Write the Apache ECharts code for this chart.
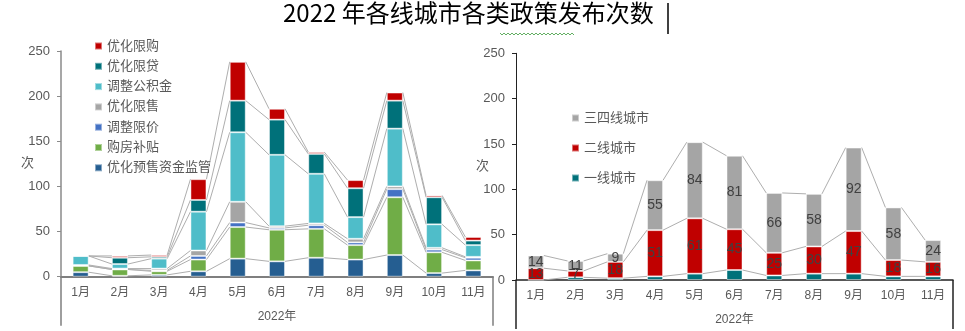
<!DOCTYPE html>
<html><head><meta charset="utf-8">
<script src="https://cdn.jsdelivr.net/npm/echarts@6/dist/echarts.min.js"></script>
<style>html,body{margin:0;padding:0;background:#fff}#c{width:965px;height:331px}</style>
</head><body><div id="c"></div>
<script>
const titleText = '2022 年各线城市各类政策发布次数';
const months = ['1月','2月','3月','4月','5月','6月','7月','8月','9月','10月','11月'];
const yearLabel = ['2022年'];
const yMin = 0, yMax = 250, yStep = 50;

// left chart: policy types (bottom -> top)
const presale   = [5,1,2,6,20,17,21,19,24,4,7];
const subsidy   = [7,7,4,13,35,35,32,16,64,23,11];
const priceCap  = [0,0,1,4,5,2,4,3,9,3,3];
const saleLimit = [1,1,2,6,23,2,2,4,3,2,1];
const fund      = [10,5,11,43,77,79,55,24,64,26,13];
const loan      = [0,7,2,13,35,39,22,32,31,30,5];
const purchase  = [0,2,2,23,43,12,2,9,9,2,4];

// right chart: city tiers (bottom -> top)
const tier1  = [0,3,2,4,7,11,5,7,7,4,4];
const tier2  = [13,7,18,51,61,45,25,30,47,18,16];
const tier34 = [14,11,9,55,84,81,66,58,92,58,24];

const leftSeries = [
  {name:'优化预售资金监管', data:presale,  color:'#255E91'},
  {name:'购房补贴',         data:subsidy,  color:'#70AD47'},
  {name:'调整限价',         data:priceCap, color:'#4472C4'},
  {name:'优化限售',         data:saleLimit,color:'#A5A5A5'},
  {name:'调整公积金',       data:fund,     color:'#4FBDC9'},
  {name:'优化限贷',         data:loan,     color:'#00717A'},
  {name:'优化限购',         data:purchase, color:'#C00000'}
];
const rightSeries = [
  {name:'一线城市',   data:tier1,  color:'#00717A', label:false},
  {name:'二线城市',   data:tier2,  color:'#C00000', label:true},
  {name:'三四线城市', data:tier34, color:'#A5A5A5', label:true}
];

const BW = 16;
const FONT = 'Liberation Sans, Noto Sans CJK SC, sans-serif';
const txt = '#595959';

function cumulative(list){
  const out = []; let run = months.map(()=>0);
  list.forEach(s=>{ run = run.map((v,i)=>v+s.data[i]); out.push(run.slice()); });
  return out;
}
function connector(list, xi, yi){
  const cums = cumulative(list);
  return {
    type:'custom', xAxisIndex:xi, yAxisIndex:yi, silent:true, z:1,
    data: months.slice(0,-1).map((m,i)=>[i,0]),
    encode:{x:0,y:1},
    renderItem:(params, api)=>{
      const i = api.value(0);
      return {type:'group', children: cums.map(c=>{
        const p1 = api.coord([i, c[i]]), p2 = api.coord([i+1, c[i+1]]);
        return {type:'line', shape:{x1:p1[0]+BW/2, y1:p1[1], x2:p2[0]-BW/2, y2:p2[1]},
                style:{stroke:'#AEAEAE', lineWidth:1}};
      })};
    }
  };
}

function catAxis(grid, lineColor, lineWidth){
  return {type:'category', gridIndex:grid, data:months, boundaryGap:true,
    axisLine:{show:true, lineStyle:{color:lineColor, width:lineWidth}},
    axisTick:{show:false},
    axisLabel:{color:txt, fontSize:12, margin:10, fontFamily:FONT}};
}
function yearAxis(grid, color){
  return {type:'category', gridIndex:grid, data:yearLabel, position:'bottom', boundaryGap:true,
    axisLine:{show:false},
    axisTick:{show:true, length:49, lineStyle:{color:color, width:1.5}},
    axisLabel:{color:txt, fontSize:12, margin:34, fontFamily:FONT}};
}
function valAxis(grid, color, w){
  return {type:'value', gridIndex:grid, min:yMin, max:yMax, interval:yStep,
    name:'次', nameLocation:'middle', nameRotate:0, nameGap:27, nameMoveOverlap:false,
    nameTextStyle:{color:txt, fontSize:13, fontFamily:FONT},
    axisLine:{show:true, lineStyle:{color:color, width:w}},
    axisTick:{show:true, length:4, lineStyle:{color:color}},
    splitLine:{show:false},
    axisLabel:{color:txt, fontSize:13, margin:11, fontFamily:FONT}};
}

const series = [];
leftSeries.forEach(s=>series.push({
  type:'bar', name:s.name, stack:'L', xAxisIndex:0, yAxisIndex:0, barWidth:BW, data:s.data,
  itemStyle:{color:s.color, borderColor:'rgba(255,255,255,0.45)', borderWidth:1}, z:2
}));
rightSeries.forEach(s=>series.push({
  type:'bar', name:s.name, stack:'R', xAxisIndex:2, yAxisIndex:1, barWidth:BW, data:s.data,
  itemStyle:{color:s.color, borderColor:'rgba(255,255,255,0.45)', borderWidth:1}, z:2,
  label:{show:s.label, position:'inside', color:'#404040', fontSize:14, fontFamily:FONT}
}));
series.push(connector(leftSeries,0,0));
series.push(connector(rightSeries,2,1));

const chart = echarts.init(document.getElementById('c'), null, {renderer:'canvas'});
chart.setOption({
  animation:false,
  backgroundColor:'#fff',
  title:{text:titleText, left:283, top:1, padding:0,
    textStyle:{fontSize:24, color:'#000', fontWeight:'normal', fontFamily:'Noto Sans CJK SC'}},
  grid:[{left:61, top:51, width:432, height:225.7},
        {left:516, top:53.3, width:437, height:226.7}],
  xAxis:[catAxis(0,'#7F7F7F',2), yearAxis(0,'#7F7F7F'), catAxis(1,'#222',1.5), yearAxis(1,'#222')],
  yAxis:[valAxis(0,'#8A8A8A',1.5), valAxis(1,'#222',1)],
  legend:[
    {orient:'vertical', left:94, top:39, padding:0, itemWidth:7, itemHeight:7, itemGap:6.3, icon:'rect',
     data:leftSeries.map(s=>s.name).reverse(),
     textStyle:{color:txt, fontSize:13, lineHeight:14, fontFamily:FONT}},
    {orient:'vertical', left:571, top:111, padding:0, itemWidth:7, itemHeight:7, itemGap:16, icon:'rect',
     data:rightSeries.map(s=>s.name).reverse(),
     textStyle:{color:txt, fontSize:13, lineHeight:14, fontFamily:FONT}}
  ],
  graphic:[
    {type:'line', shape:{x1:668, y1:3, x2:668, y2:34}, style:{stroke:'#000', lineWidth:1.5}},
    {type:'polyline', shape:{points:[[500,33],[502,35],[504,33],[506,35],[508,33],[510,35],[512,33],[514,35],[516,33],[518,35],[520,33],[522,35],[524,33],[526,35],[528,33],[530,35],[532,33],[534,35],[536,33],[538,35],[540,33],[542,35],[544,33],[546,35],[548,33],[550,35],[552,33],[554,35],[556,33],[558,35],[560,33],[562,35],[564,33],[566,35],[568,33],[570,35],[572,33],[574,35]]},
     style:{stroke:'#3c9a3c', lineWidth:0.8, fill:null}}
  ],
  series
});
</script></body></html>
